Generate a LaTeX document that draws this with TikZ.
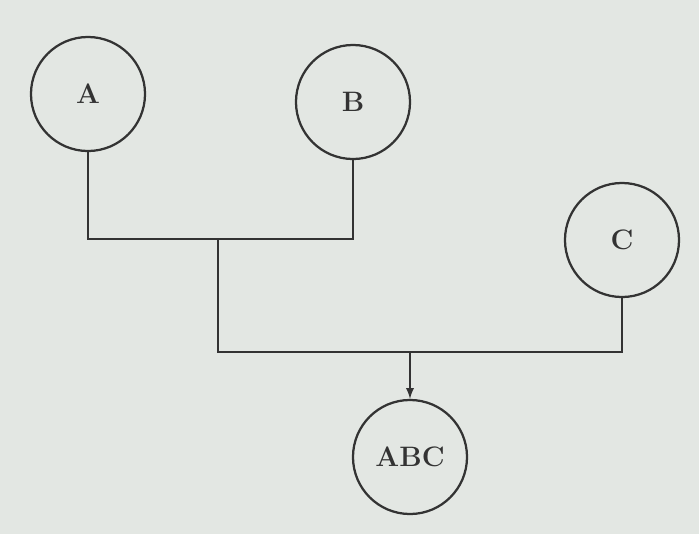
\documentclass[tikz,border=0pt]{standalone}
\usepackage{tikz}
\usetikzlibrary{positioning}
\usetikzlibrary{calc}
\definecolor{paper}{HTML}{E3E7E3}
\definecolor{ink}{HTML}{333333}
\tikzset{
  setnode/.style={draw=ink, circle, line width=1.6pt, minimum size=2.85cm, inner sep=0pt,
    font=\fontsize{20}{24}\selectfont\bfseries, text=ink},
  link/.style={draw=ink, line width=1.6pt}
}
\begin{document}
\begin{tikzpicture}[x=0.025cm,y=-0.025cm]
            \fill[paper] (0,0) rectangle (699,534);
            \useasboundingbox (0,0) rectangle (699,534);
            \node[setnode] (A) at (88,94) {A};
            \node[setnode] (B) at (353,102) {B};
            \node[setnode] (C) at (622,240) {C};
            \node[setnode] (ABC) at (410,457) {ABC};
            \coordinate (jab) at (218,239);
            \coordinate (jc) at (218,352);
            \coordinate (jabc) at (ABC.north |- jc);
            \draw[link] (A.south) |- (jab) -| (B.south);
            \draw[link] (jab) -- (jc) -| (C.south);
            \draw[link,-latex] (jabc) -- (ABC.north);
        \end{tikzpicture}
\end{document}
